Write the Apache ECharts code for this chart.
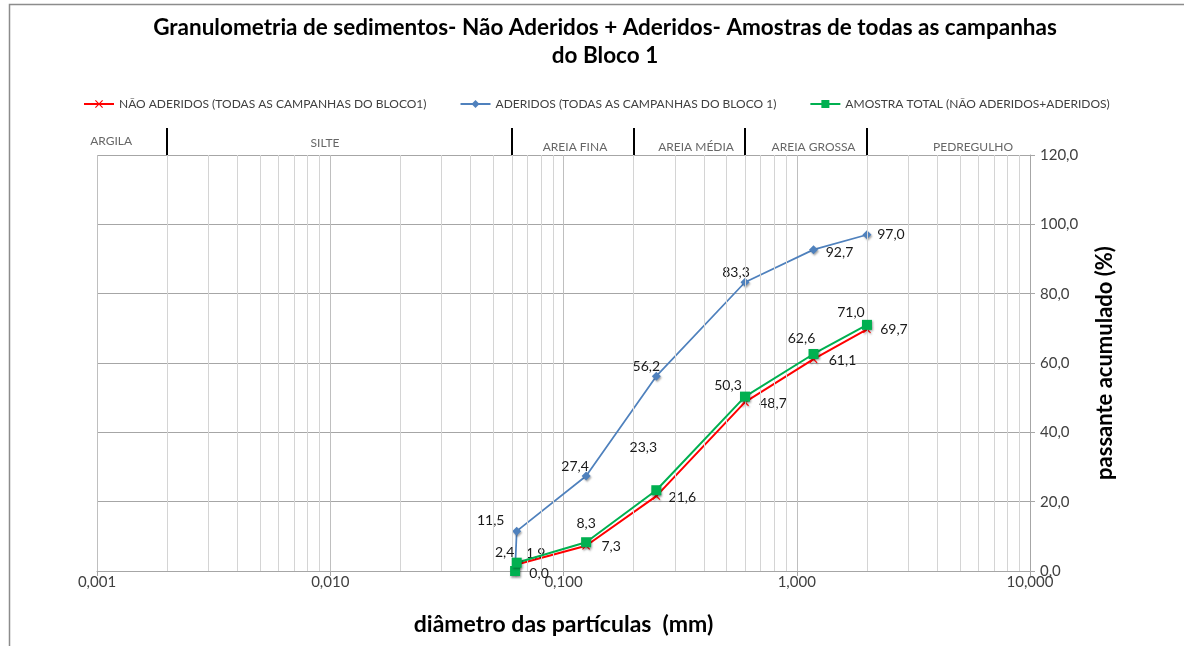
<!DOCTYPE html>
<html>
<head>
<meta charset="utf-8">
<script src="https://cdn.jsdelivr.net/npm/echarts@6/dist/echarts.min.js"></script>
<style>
  html, body { margin: 0; padding: 0; background: #fff; }
  #grafico { width: 1184px; height: 646px; }
</style>
</head>
<body>
<div id="grafico"></div>
<script>
// diâmetros das peneiras (mm) - o primeiro ponto é o fundo (0 %)
const diametros = [0.062, 0.063, 0.125, 0.25, 0.6, 1.18, 2.0];
const naoAderidos = [0.0, 1.9, 7.3, 21.6, 48.7, 61.1, 69.7];
const aderidos = [0.0, 11.5, 27.4, 56.2, 83.3, 92.7, 97.0];
const amostraTotal = [0.0, 2.4, 8.3, 23.3, 50.3, 62.6, 71.0];

// faixas granulométricas (faixa superior)
const faixas = ['ARGILA', 'SILTE', 'AREIA FINA', 'AREIA MÉDIA', 'AREIA GROSSA', 'PEDREGULHO'];
const faixasPos = [0.00115, 0.0095, 0.112, 0.37, 1.18, 5.7];
const faixasAltura = [0.5, 0.45, 0.28, 0.3, 0.3, 0.3];
const limitesFaixas = [0.002, 0.06, 0.2, 0.6, 2.0];

const nomes = [
  'NÃO ADERIDOS (TODAS AS CAMPANHAS DO BLOCO1)',
  'ADERIDOS (TODAS AS CAMPANHAS DO BLOCO 1)',
  'AMOSTRA TOTAL (NÃO ADERIDOS+ADERIDOS)'
];

const titulo = 'Granulometria de sedimentos- Não Aderidos + Aderidos- Amostras de todas as campanhas\ndo Bloco 1';

// deslocamento dos rótulos (px) em relação ao ponto, null = sem rótulo
const offNao = [[24, 2], [19, -11], [25, 1], [26, 1], [28, 1], [29, 1], [27, 0]];
const offAde = [null, [-26, -11], [-11, -10], [-10, -10], [-9, -10], [26, 3], [24, 0]];
const offTot = [null, [-12, -10], [0, -19], [-13, -43], [-17, -11], [-12, -16], [-16, -12]];

const fonte = 'Lato';

// linhas de grade secundárias (2..9 de cada década)
const gradeX = [];
[0.001, 0.01, 0.1, 1].forEach(d => {
  for (let k = 2; k <= 9; k++) gradeX.push(+(k * d).toPrecision(3));
});

function virgula(v, casas) {
  return (+v).toFixed(casas).replace('.', ',');
}

function montar(valores, offs) {
  return valores.map((v, i) => ({
    value: [diametros[i], v],
    label: offs[i]
      ? { show: true, position: 'inside', offset: offs[i] }
      : { show: false }
  }));
}

const rotulo = {
  color: '#1a1a1a',
  fontSize: 14,
  fontFamily: fonte,
  formatter: p => virgula(p.value[1], 1)
};

const sombra = {
  shadowBlur: 2,
  shadowOffsetX: 1,
  shadowOffsetY: 1.5,
  shadowColor: 'rgba(0,0,0,0.35)'
};

const xPath = 'path://M0,1 L1,0 L5,4 L9,0 L10,1 L6,5 L10,9 L9,10 L5,6 L1,10 L0,9 L4,5 Z';

const myChart = echarts.init(document.getElementById('grafico'));

const option = {
  animation: false,
  backgroundColor: '#fff',
  legend: {
    data: nomes,
    left: 78,
    top: 93,
    itemWidth: 30,
    itemHeight: 10,
    itemGap: 33,
    textStyle: { fontFamily: fonte, fontSize: 12, color: '#404040' }
  },
  graphic: [
    {
      type: 'rect',
      shape: { x: 9.5, y: 4.5, width: 1300, height: 800 },
      style: { fill: 'none', stroke: '#8c8c8c', lineWidth: 1.5 },
      silent: true
    },
    {
      // título
      type: 'text',
      x: 605,
      y: 14,
      silent: true,
      style: {
        text: titulo,
        font: 'bold 22.5px Lato',
        fill: '#000',
        align: 'center',
        verticalAlign: 'top',
        lineHeight: 28
      }
    }
  ],
  grid: [
    { left: 97, right: 154, top: 155, bottom: 75 },
    { left: 97, right: 154, top: 128, height: 27 }
  ],
  xAxis: [
    {
      type: 'log',
      logBase: 10,
      min: 0.001,
      max: 10,
      gridIndex: 0,
      name: 'diâmetro das partículas  (mm)',
      nameLocation: 'middle',
      nameGap: 42,
      nameTextStyle: { fontFamily: fonte, fontSize: 23, fontWeight: 'bold', color: '#000' },
      axisLine: { lineStyle: { color: '#a6a6a6' } },
      axisTick: { show: true, length: 5, lineStyle: { color: '#a6a6a6' } },
      axisLabel: {
        fontFamily: fonte, fontSize: 15, color: '#404040', margin: 4,
        formatter: v => virgula(v, 3)
      },
      splitLine: { show: true, lineStyle: { color: '#bfbfbf' } }
    },
    {
      type: 'log',
      logBase: 10,
      min: 0.001,
      max: 10,
      gridIndex: 1,
      show: false
    }
  ],
  yAxis: [
    {
      type: 'value',
      gridIndex: 0,
      position: 'right',
      min: 0,
      max: 120,
      interval: 20,
      name: 'passante acumulado (%)',
      nameLocation: 'middle',
      nameRotate: 90,
      nameGap: 64,
      nameTextStyle: { fontFamily: fonte, fontSize: 22, fontWeight: 'bold', color: '#000' },
      axisLine: { show: true, lineStyle: { color: '#a6a6a6' } },
      axisTick: { show: true, length: 5, lineStyle: { color: '#a6a6a6' } },
      axisLabel: {
        fontFamily: fonte, fontSize: 15, color: '#404040', margin: 10,
        formatter: v => virgula(v, 1)
      },
      splitLine: { show: true, lineStyle: { color: '#a6a6a6' } }
    },
    {
      type: 'value',
      gridIndex: 1,
      min: 0,
      max: 1,
      show: false
    }
  ],
  series: [
    {
      // grade secundária do eixo log
      type: 'line',
      xAxisIndex: 0,
      yAxisIndex: 0,
      data: [],
      z: 1,
      silent: true,
      markLine: {
        silent: true,
        precision: 6,
        symbol: ['none', 'none'],
        label: { show: false },
        lineStyle: { color: '#d4d4d4', type: 'solid', width: 1 },
        data: gradeX.map(x => ({ xAxis: x }))
      }
    },
    {
      // faixas granulométricas
      type: 'scatter',
      xAxisIndex: 1,
      yAxisIndex: 1,
      symbolSize: 1,
      itemStyle: { color: 'rgba(0,0,0,0)' },
      silent: true,
      data: faixas.map((f, i) => ({ value: [faixasPos[i], faixasAltura[i]], name: f })),
      label: {
        show: true,
        position: 'inside',
        formatter: p => p.name,
        fontFamily: fonte,
        fontSize: 12,
        color: '#404040'
      },
      markLine: {
        silent: true,
        precision: 6,
        symbol: ['none', 'none'],
        label: { show: false },
        lineStyle: { color: '#000', type: 'solid', width: 2 },
        data: limitesFaixas.map(x => ({ xAxis: x }))
      }
    },
    {
      name: nomes[0],
      type: 'line',
      z: 3,
      data: montar(naoAderidos, offNao),
      symbol: xPath,
      symbolSize: 8,
      color: '#ff0000',
      lineStyle: { width: 2, color: '#ff0000' },
      itemStyle: Object.assign({ color: '#ff0000' }, sombra),
      label: rotulo
    },
    {
      name: nomes[1],
      type: 'line',
      z: 4,
      data: montar(aderidos, offAde),
      symbol: 'diamond',
      symbolSize: 9,
      color: '#4f81bd',
      lineStyle: { width: 1.75, color: '#4f81bd' },
      itemStyle: Object.assign({ color: '#4f81bd' }, sombra),
      label: rotulo
    },
    {
      name: nomes[2],
      type: 'line',
      z: 5,
      data: montar(amostraTotal, offTot),
      symbol: 'rect',
      symbolSize: 10,
      color: '#00b050',
      lineStyle: { width: 2, color: '#00b050' },
      itemStyle: Object.assign({ color: '#00b050' }, sombra),
      label: rotulo
    }
  ]
};

myChart.setOption(option);
</script>
</body>
</html>
